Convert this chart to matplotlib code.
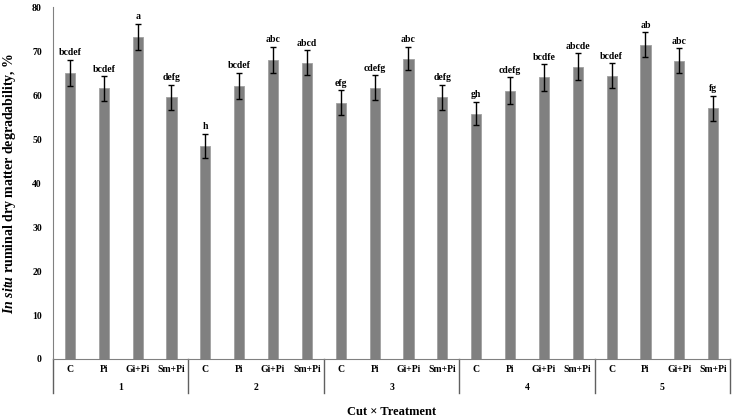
import numpy as np
import matplotlib.pyplot as plt
from matplotlib import transforms

plt.rcParams['font.family'] = ['Liberation Serif', 'DejaVu Serif']
plt.rcParams['mathtext.fontset'] = 'custom'
plt.rcParams['mathtext.it'] = 'Liberation Serif:italic:bold'
plt.rcParams['mathtext.rm'] = 'Liberation Serif:bold'

cuts = ['1', '2', '3', '4', '5']
treatments = ['C', 'Pi', 'Gi+Pi', 'Sm+Pi']
values = [65.0, 61.5, 73.2, 59.5,
          48.5, 62.0, 68.0, 67.4,
          58.3, 61.7, 68.3, 59.5,
          55.8, 61.0, 64.0, 66.5,
          64.4, 71.5, 67.8, 57.0]
errors = [3.0, 2.8, 3.0, 2.8,
          2.7, 3.0, 3.0, 2.8,
          2.8, 2.8, 2.7, 2.8,
          2.7, 3.0, 3.0, 3.0,
          2.8, 2.8, 2.8, 2.8]
letters = ['bcdef', 'bcdef', 'a', 'defg',
           'h', 'bcdef', 'abc', 'abcd',
           'efg', 'cdefg', 'abc', 'defg',
           'gh', 'cdefg', 'bcdfe', 'abcde',
           'bcdef', 'ab', 'abc', 'fg']

x = np.arange(len(values))
fig = plt.figure(figsize=(7.33, 4.19), dpi=100)
ax = fig.add_axes([0.0723, 0.1432, 0.9237, 0.8398])

ax.bar(x, values, width=0.3, color='#808080', edgecolor='#a0a0a0', linewidth=0.6, zorder=2)
ax.errorbar(x, values, yerr=errors, fmt='none', ecolor='black', elinewidth=1,
            capsize=2.5, capthick=1, zorder=3)
for xi, v, e, s in zip(x, values, errors, letters):
    ax.text(xi, v + e + 0.6, s, ha='center', va='bottom', fontsize=7, fontweight='bold')

ax.set_xlim(-0.5, 19.5)
ax.set_ylim(0, 80)
ax.set_yticks(range(0, 81, 10))
ax.tick_params(axis='y', length=0, labelsize=7, pad=8)
for lab in ax.get_yticklabels():
    lab.set_fontweight('bold')
ax.set_xticks([])
for sp in ['top', 'right']:
    ax.spines[sp].set_visible(False)
ax.spines['left'].set_color('#808080')
ax.spines['bottom'].set_color('#808080')

# multi-level category axis
trans = transforms.blended_transform_factory(ax.transData, ax.transAxes)
for i, t in enumerate(treatments * len(cuts)):
    ax.text(i, -0.031, t, transform=trans, ha='center', va='center',
            fontsize=7, fontweight='bold')
for g, c in enumerate(cuts):
    ax.text(g * 4 + 1.5, -0.08, c, transform=trans, ha='center', va='center',
            fontsize=7, fontweight='bold')
for b in [-0.5, 3.5, 7.5, 11.5, 15.5, 19.5]:
    ax.plot([b, b], [0, -0.097], transform=trans, color='#606060', lw=1, clip_on=False)

ax.text(0.5, -0.15, 'Cut × Treatment', transform=ax.transAxes, ha='center', va='center',
        fontsize=9, fontweight='bold')
ax.set_ylabel(r'$\it{In\ situ}$ ruminal dry matter degradability, %',
              fontsize=10, fontweight='bold', labelpad=10)

fig.savefig('out.png', dpi=100)
